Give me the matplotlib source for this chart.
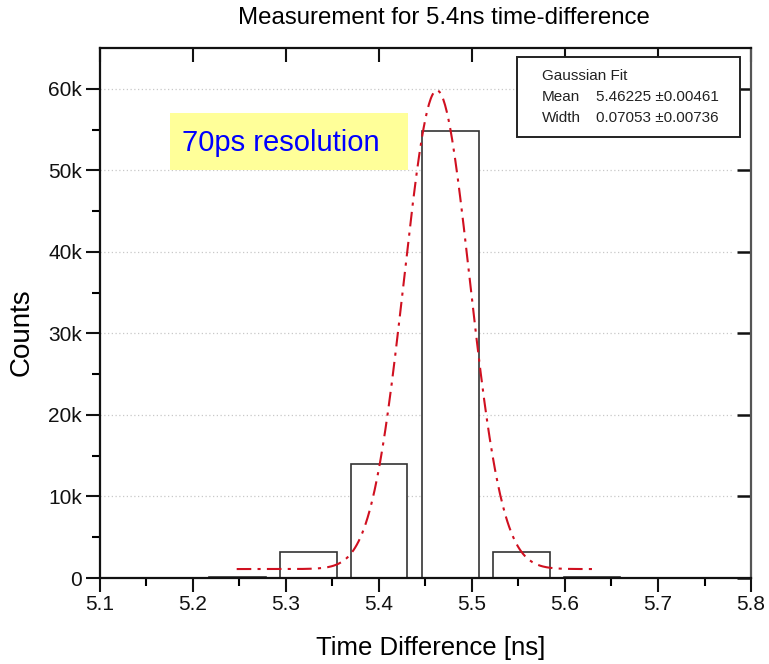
import numpy as np
import matplotlib
matplotlib.use('Agg')
from matplotlib import pyplot as plt
from matplotlib.patches import Rectangle

plt.rcParams['font.family'] = ['Liberation Sans', 'DejaVu Sans']

# histogram
bin_centers = [5.248, 5.324, 5.400, 5.477, 5.553, 5.629]
counts = [150, 3200, 14000, 54800, 3200, 150]
bin_width = 0.061

# gaussian fit (Origin style: w = 2 sigma)
fit_y0 = 1100
fit_peak = 59800
fit_mean = 5.46225
fit_width = 0.07053
fit_range = (5.247, 5.629)

mean_text = ('5.46225', '0.00461')
width_text = ('0.07053', '0.00736')

fig = plt.figure(figsize=(7.69, 6.64), dpi=100)
ax = fig.add_axes([0.130, 0.1295, 0.8466, 0.7982])

# dotted grid, stopping just short of the right-hand ticks
for v in range(10000, 60001, 10000):
    ax.plot([5.1, 5.78], [v, v], color='#c8c8c8', linestyle=(0, (1, 2)), linewidth=0.9, zorder=0)

ax.bar(bin_centers, counts, width=bin_width, facecolor='white',
       edgecolor='#333333', linewidth=1.2, zorder=2)

xf = np.linspace(fit_range[0], fit_range[1], 400)
yf = fit_y0 + (fit_peak - fit_y0) * np.exp(-2 * (xf - fit_mean) ** 2 / fit_width ** 2)
ax.plot(xf, yf, color='#d01020', linewidth=1.5, dashes=(7, 3, 1.5, 3), zorder=3)

ax.set_xlim(5.1, 5.8)
ax.set_ylim(0, 65000)
ax.set_xticks(np.arange(5.1, 5.81, 0.1))
ax.set_xticks(np.arange(5.15, 5.8, 0.1), minor=True)
ax.set_yticks(np.arange(0, 60001, 10000))
ax.set_yticks(np.arange(5000, 60001, 10000), minor=True)
ax.set_yticklabels(['0'] + ['%dk' % (v // 1000) for v in range(10000, 60001, 10000)])
ax.set_xticklabels(['%.1f' % v for v in np.arange(5.1, 5.81, 0.1)])

ax.tick_params(which='major', direction='out', length=10, width=1.5, labelsize=15, pad=3, colors='#111111')
ax.tick_params(which='minor', direction='out', length=6, width=1.5)
ax.tick_params(axis='x', which='major', pad=2)
for s in ax.spines.values():
    s.set_linewidth(1.6)
    s.set_color('#111111')
ax.spines['right'].set_color('#555555')

top = ax.secondary_xaxis('top')
top.set_xticks(np.arange(5.1, 5.81, 0.1))
top.tick_params(direction='in', length=10, width=1.5, labeltop=False, color='#111111')
top.spines['top'].set_visible(False)
right = ax.secondary_yaxis('right')
right.set_yticks(np.arange(0, 60001, 10000))
right.tick_params(direction='in', length=10, width=1.8, labelright=False, color='#111111')
right.spines['right'].set_visible(False)

fig.text(0.577, 1 - 18 / 664, 'Measurement for 5.4ns time-difference', ha='center', va='center', fontsize=17.3)
fig.text(431 / 769, 1 - 648 / 664, 'Time Difference [ns]', ha='center', va='center', fontsize=18.5)
fig.text(22 / 769, 1 - 332 / 664, 'Counts', ha='center', va='center', rotation=90, fontsize=20)

# fit result box
ax.add_patch(Rectangle((0.6406, 0.832), 0.3424, 0.151, transform=ax.transAxes,
                       facecolor='white', edgecolor='#222222', linewidth=1.4, zorder=5))
ax.text(0.679, 0.947, 'Gaussian Fit', transform=ax.transAxes, fontsize=11, va='center', zorder=6, color='#222222')
ax.text(0.679, 0.9075, 'Mean', transform=ax.transAxes, fontsize=11, va='center', zorder=6, color='#222222')
ax.text(0.679, 0.868, 'Width', transform=ax.transAxes, fontsize=11, va='center', zorder=6, color='#222222')
ax.text(0.7619, 0.9075, '%s \u00b1%s' % mean_text, transform=ax.transAxes, fontsize=11, va='center', zorder=6, color='#222222')
ax.text(0.7619, 0.868, '%s \u00b1%s' % width_text, transform=ax.transAxes, fontsize=11, va='center', zorder=6, color='#222222')

# annotation
ax.add_patch(Rectangle((0.1075, 0.770), 0.3655, 0.107, transform=ax.transAxes,
                       facecolor='#ffff99', edgecolor='none', zorder=4))
ax.text(0.126, 0.821, '70ps resolution', transform=ax.transAxes, fontsize=21,
        color='#0000ff', va='center', zorder=6)

fig.savefig('out.png', dpi=100)
